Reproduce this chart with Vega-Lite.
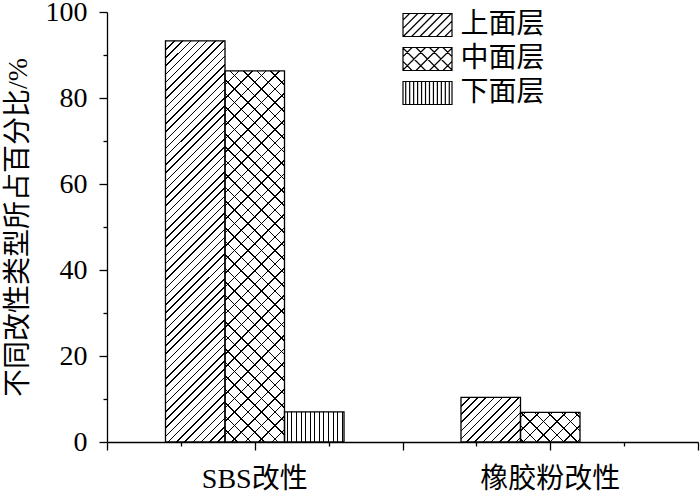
{
"$schema": "https://vega.github.io/schema/vega-lite/v6.json",
"width": 591, "height": 430,
"autosize": {"type": "none"},
"padding": {"left": 107, "top": 12, "right": 2, "bottom": 51},
"background": "white",
"config": {"view": {"stroke": null}},
"data": {"values": [
 {"type": "SBS改性", "layer": "上面层", "pct": 93.3},
 {"type": "SBS改性", "layer": "中面层", "pct": 86.3},
 {"type": "SBS改性", "layer": "下面层", "pct": 7.0},
 {"type": "橡胶粉改性", "layer": "上面层", "pct": 10.4},
 {"type": "橡胶粉改性", "layer": "中面层", "pct": 6.9},
 {"type": "橡胶粉改性", "layer": "下面层", "pct": 0}
]},
"layer": [
 {
  "encoding": {
   "x": {"field": "type", "type": "nominal", "scale": {"domain": ["SBS改性", "橡胶粉改性"], "paddingInner": 0, "paddingOuter": 0},
         "axis": {"orient": "bottom", "title": null, "ticks": false, "labelAngle": 0, "labelFont": "'Liberation Serif', 'Noto Sans CJK SC', serif", "labelFontSize": 28, "labelColor": "black", "labelPadding": 23, "labelBaseline": "top", "domainColor": "black", "domainWidth": 1.3}},
   "xOffset": {"field": "layer", "type": "nominal", "scale": {"domain": ["上面层", "中面层", "下面层"], "paddingInner": 0, "paddingOuter": 0.983}},
   "y": {"field": "pct", "type": "quantitative", "scale": {"domain": [0, 100], "nice": false, "zero": true},
         "axis": {"title": "不同改性类型所占百分比/%", "titleFont": "'Liberation Serif', 'Noto Sans CJK SC', serif", "titleFontSize": 28, "titleFontWeight": "normal", "titleColor": "black", "titlePadding": 13,
                  "values": [0, 10, 20, 30, 40, 50, 60, 70, 80, 90, 100], "labelExpr": "datum.value % 20 === 0 ? datum.label : ''",
                  "labelFont": "'Liberation Serif', serif", "labelFontSize": 28, "labelColor": "black", "labelPadding": 12,
                  "tickColor": "black", "tickWidth": 1.3, "tickSize": {"condition": {"test": "datum.value % 20 === 0", "value": 8}, "value": 4},
                  "domainColor": "black", "domainWidth": 1.3, "grid": false}}
  },
  "layer": [
   {"mark": {"type": "bar"},
    "encoding": {"fill": {"field": "layer", "type": "nominal", "scale": {"domain": ["上面层", "中面层", "下面层"], "range": ["white", "white", "white"]},
      "legend": {"title": null, "orient": "none", "legendX": 306.5, "legendY": -1, "padding": 0, "symbolSize": 576, "symbolStrokeWidth": 1.2, "symbolStrokeColor": "black",
        "labelFont": "'Noto Sans CJK SC', sans-serif", "labelFontSize": 28, "labelColor": "black", "labelOffset": 19, "rowPadding": 6,
        "encode": {"symbols": {"update": {
          "shape": [
           {"test": "datum.value === '上面层'", "value": "M-2.042,-0.958H2.042V0.958H-2.042ZM-2.042,-0.408L-1.492,-0.958M-2.042,0.286L-0.798,-0.958M-2.019,0.958L-0.104,-0.958M-1.325,0.958L0.59,-0.958M-0.631,0.958L1.284,-0.958M0.063,0.958L1.978,-0.958M0.757,0.958L2.042,-0.327M1.452,0.958L2.042,0.368"},
           {"test": "datum.value === '中面层'", "value": "M-2.042,-0.958H2.042V0.958H-2.042ZM-2.042,-0.204L-1.288,-0.958M-2.042,0.919L-0.165,-0.958M-0.958,0.958L0.958,-0.958M0.165,0.958L2.042,-0.919M1.288,0.958L2.042,0.204M-2.042,0.204L-1.288,0.958M-2.042,-0.919L-0.165,0.958M-0.958,-0.958L0.958,0.958M0.165,-0.958L2.042,0.919M1.288,-0.958L2.042,-0.204"},
           {"value": "M-2.042,-0.958H2.042V0.958H-2.042ZM-1.815,-0.958V0.958M-1.485,-0.958V0.958M-1.155,-0.958V0.958M-0.825,-0.958V0.958M-0.495,-0.958V0.958M-0.165,-0.958V0.958M0.165,-0.958V0.958M0.495,-0.958V0.958M0.825,-0.958V0.958M1.155,-0.958V0.958M1.485,-0.958V0.958M1.815,-0.958V0.958"}
          ],
          "fill": {"value": "white"}, "fillOpacity": {"value": 1}, "opacity": {"value": 1}, "stroke": {"value": "black"}, "strokeWidth": {"value": 1.2}
        }}}
      }}}
   },
   {"transform": [{"filter": "datum.type === 'SBS改性' && datum.layer === '上面层'"}],
    "mark": {"type": "bar", "strokeWidth": 0, "fill": {"gradient": "linear", "x1": 0, "y1": 0, "x2": 0.1666, "y2": 1.1236, "stops": [
{"offset":0,"color":"#000"},{"offset":0.0033,"color":"#000"},{"offset":0.0033,"color":"#fff"},
{"offset":0.0179,"color":"#fff"},{"offset":0.0179,"color":"#000"},{"offset":0.0212,"color":"#000"},{"offset":0.0212,"color":"#fff"},
{"offset":0.0357,"color":"#fff"},{"offset":0.0357,"color":"#000"},{"offset":0.039,"color":"#000"},{"offset":0.039,"color":"#fff"},
{"offset":0.0536,"color":"#fff"},{"offset":0.0536,"color":"#000"},{"offset":0.0569,"color":"#000"},{"offset":0.0569,"color":"#fff"},
{"offset":0.0714,"color":"#fff"},{"offset":0.0714,"color":"#000"},{"offset":0.0747,"color":"#000"},{"offset":0.0747,"color":"#fff"},
{"offset":0.0893,"color":"#fff"},{"offset":0.0893,"color":"#000"},{"offset":0.0926,"color":"#000"},{"offset":0.0926,"color":"#fff"},
{"offset":0.1071,"color":"#fff"},{"offset":0.1071,"color":"#000"},{"offset":0.1104,"color":"#000"},{"offset":0.1104,"color":"#fff"},
{"offset":0.125,"color":"#fff"},{"offset":0.125,"color":"#000"},{"offset":0.1283,"color":"#000"},{"offset":0.1283,"color":"#fff"},
{"offset":0.1429,"color":"#fff"},{"offset":0.1429,"color":"#000"},{"offset":0.1462,"color":"#000"},{"offset":0.1462,"color":"#fff"},
{"offset":0.1607,"color":"#fff"},{"offset":0.1607,"color":"#000"},{"offset":0.164,"color":"#000"},{"offset":0.164,"color":"#fff"},
{"offset":0.1786,"color":"#fff"},{"offset":0.1786,"color":"#000"},{"offset":0.1819,"color":"#000"},{"offset":0.1819,"color":"#fff"},
{"offset":0.1964,"color":"#fff"},{"offset":0.1964,"color":"#000"},{"offset":0.1997,"color":"#000"},{"offset":0.1997,"color":"#fff"},
{"offset":0.2143,"color":"#fff"},{"offset":0.2143,"color":"#000"},{"offset":0.2176,"color":"#000"},{"offset":0.2176,"color":"#fff"},
{"offset":0.2321,"color":"#fff"},{"offset":0.2321,"color":"#000"},{"offset":0.2354,"color":"#000"},{"offset":0.2354,"color":"#fff"},
{"offset":0.25,"color":"#fff"},{"offset":0.25,"color":"#000"},{"offset":0.2533,"color":"#000"},{"offset":0.2533,"color":"#fff"},
{"offset":0.2679,"color":"#fff"},{"offset":0.2679,"color":"#000"},{"offset":0.2712,"color":"#000"},{"offset":0.2712,"color":"#fff"},
{"offset":0.2857,"color":"#fff"},{"offset":0.2857,"color":"#000"},{"offset":0.289,"color":"#000"},{"offset":0.289,"color":"#fff"},
{"offset":0.3036,"color":"#fff"},{"offset":0.3036,"color":"#000"},{"offset":0.3069,"color":"#000"},{"offset":0.3069,"color":"#fff"},
{"offset":0.3214,"color":"#fff"},{"offset":0.3214,"color":"#000"},{"offset":0.3247,"color":"#000"},{"offset":0.3247,"color":"#fff"},
{"offset":0.3393,"color":"#fff"},{"offset":0.3393,"color":"#000"},{"offset":0.3426,"color":"#000"},{"offset":0.3426,"color":"#fff"},
{"offset":0.3571,"color":"#fff"},{"offset":0.3571,"color":"#000"},{"offset":0.3604,"color":"#000"},{"offset":0.3604,"color":"#fff"},
{"offset":0.375,"color":"#fff"},{"offset":0.375,"color":"#000"},{"offset":0.3783,"color":"#000"},{"offset":0.3783,"color":"#fff"},
{"offset":0.3929,"color":"#fff"},{"offset":0.3929,"color":"#000"},{"offset":0.3962,"color":"#000"},{"offset":0.3962,"color":"#fff"},
{"offset":0.4107,"color":"#fff"},{"offset":0.4107,"color":"#000"},{"offset":0.414,"color":"#000"},{"offset":0.414,"color":"#fff"},
{"offset":0.4286,"color":"#fff"},{"offset":0.4286,"color":"#000"},{"offset":0.4319,"color":"#000"},{"offset":0.4319,"color":"#fff"},
{"offset":0.4464,"color":"#fff"},{"offset":0.4464,"color":"#000"},{"offset":0.4497,"color":"#000"},{"offset":0.4497,"color":"#fff"},
{"offset":0.4643,"color":"#fff"},{"offset":0.4643,"color":"#000"},{"offset":0.4676,"color":"#000"},{"offset":0.4676,"color":"#fff"},
{"offset":0.4821,"color":"#fff"},{"offset":0.4821,"color":"#000"},{"offset":0.4854,"color":"#000"},{"offset":0.4854,"color":"#fff"},
{"offset":0.5,"color":"#fff"},{"offset":0.5,"color":"#000"},{"offset":0.5033,"color":"#000"},{"offset":0.5033,"color":"#fff"},
{"offset":0.5179,"color":"#fff"},{"offset":0.5179,"color":"#000"},{"offset":0.5212,"color":"#000"},{"offset":0.5212,"color":"#fff"},
{"offset":0.5357,"color":"#fff"},{"offset":0.5357,"color":"#000"},{"offset":0.539,"color":"#000"},{"offset":0.539,"color":"#fff"},
{"offset":0.5536,"color":"#fff"},{"offset":0.5536,"color":"#000"},{"offset":0.5569,"color":"#000"},{"offset":0.5569,"color":"#fff"},
{"offset":0.5714,"color":"#fff"},{"offset":0.5714,"color":"#000"},{"offset":0.5747,"color":"#000"},{"offset":0.5747,"color":"#fff"},
{"offset":0.5893,"color":"#fff"},{"offset":0.5893,"color":"#000"},{"offset":0.5926,"color":"#000"},{"offset":0.5926,"color":"#fff"},
{"offset":0.6071,"color":"#fff"},{"offset":0.6071,"color":"#000"},{"offset":0.6104,"color":"#000"},{"offset":0.6104,"color":"#fff"},
{"offset":0.625,"color":"#fff"},{"offset":0.625,"color":"#000"},{"offset":0.6283,"color":"#000"},{"offset":0.6283,"color":"#fff"},
{"offset":0.6429,"color":"#fff"},{"offset":0.6429,"color":"#000"},{"offset":0.6462,"color":"#000"},{"offset":0.6462,"color":"#fff"},
{"offset":0.6607,"color":"#fff"},{"offset":0.6607,"color":"#000"},{"offset":0.664,"color":"#000"},{"offset":0.664,"color":"#fff"},
{"offset":0.6786,"color":"#fff"},{"offset":0.6786,"color":"#000"},{"offset":0.6819,"color":"#000"},{"offset":0.6819,"color":"#fff"},
{"offset":0.6964,"color":"#fff"},{"offset":0.6964,"color":"#000"},{"offset":0.6997,"color":"#000"},{"offset":0.6997,"color":"#fff"},
{"offset":0.7143,"color":"#fff"},{"offset":0.7143,"color":"#000"},{"offset":0.7176,"color":"#000"},{"offset":0.7176,"color":"#fff"},
{"offset":0.7321,"color":"#fff"},{"offset":0.7321,"color":"#000"},{"offset":0.7354,"color":"#000"},{"offset":0.7354,"color":"#fff"},
{"offset":0.75,"color":"#fff"},{"offset":0.75,"color":"#000"},{"offset":0.7533,"color":"#000"},{"offset":0.7533,"color":"#fff"},
{"offset":0.7679,"color":"#fff"},{"offset":0.7679,"color":"#000"},{"offset":0.7712,"color":"#000"},{"offset":0.7712,"color":"#fff"},
{"offset":0.7857,"color":"#fff"},{"offset":0.7857,"color":"#000"},{"offset":0.789,"color":"#000"},{"offset":0.789,"color":"#fff"},
{"offset":0.8036,"color":"#fff"},{"offset":0.8036,"color":"#000"},{"offset":0.8069,"color":"#000"},{"offset":0.8069,"color":"#fff"},
{"offset":0.8214,"color":"#fff"},{"offset":0.8214,"color":"#000"},{"offset":0.8247,"color":"#000"},{"offset":0.8247,"color":"#fff"},
{"offset":0.8393,"color":"#fff"},{"offset":0.8393,"color":"#000"},{"offset":0.8426,"color":"#000"},{"offset":0.8426,"color":"#fff"},
{"offset":0.8571,"color":"#fff"},{"offset":0.8571,"color":"#000"},{"offset":0.8604,"color":"#000"},{"offset":0.8604,"color":"#fff"},
{"offset":0.875,"color":"#fff"},{"offset":0.875,"color":"#000"},{"offset":0.8783,"color":"#000"},{"offset":0.8783,"color":"#fff"},
{"offset":0.8929,"color":"#fff"},{"offset":0.8929,"color":"#000"},{"offset":0.8962,"color":"#000"},{"offset":0.8962,"color":"#fff"},
{"offset":0.9107,"color":"#fff"},{"offset":0.9107,"color":"#000"},{"offset":0.914,"color":"#000"},{"offset":0.914,"color":"#fff"},
{"offset":0.9286,"color":"#fff"},{"offset":0.9286,"color":"#000"},{"offset":0.9319,"color":"#000"},{"offset":0.9319,"color":"#fff"},
{"offset":0.9464,"color":"#fff"},{"offset":0.9464,"color":"#000"},{"offset":0.9497,"color":"#000"},{"offset":0.9497,"color":"#fff"},
{"offset":0.9643,"color":"#fff"},{"offset":0.9643,"color":"#000"},{"offset":0.9676,"color":"#000"},{"offset":0.9676,"color":"#fff"},
{"offset":0.9821,"color":"#fff"},{"offset":0.9821,"color":"#000"},{"offset":0.9854,"color":"#000"},{"offset":0.9854,"color":"#fff"}
    ]}}},
   {"transform": [{"filter": "datum.type === 'SBS改性' && datum.layer === '中面层'"}],
    "mark": {"type": "bar", "strokeWidth": 0, "fill": {"gradient": "linear", "x1": 0, "y1": 0, "x2": 0.1814, "y2": 1.1313, "stops": [
{"offset":0,"color":"#000"},{"offset":0.0035,"color":"#000"},{"offset":0.0035,"color":"#fff"},
{"offset":0.0313,"color":"#fff"},{"offset":0.0313,"color":"#000"},{"offset":0.0348,"color":"#000"},{"offset":0.0348,"color":"#fff"},
{"offset":0.0625,"color":"#fff"},{"offset":0.0625,"color":"#000"},{"offset":0.066,"color":"#000"},{"offset":0.066,"color":"#fff"},
{"offset":0.0938,"color":"#fff"},{"offset":0.0938,"color":"#000"},{"offset":0.0973,"color":"#000"},{"offset":0.0973,"color":"#fff"},
{"offset":0.125,"color":"#fff"},{"offset":0.125,"color":"#000"},{"offset":0.1285,"color":"#000"},{"offset":0.1285,"color":"#fff"},
{"offset":0.1563,"color":"#fff"},{"offset":0.1563,"color":"#000"},{"offset":0.1598,"color":"#000"},{"offset":0.1598,"color":"#fff"},
{"offset":0.1875,"color":"#fff"},{"offset":0.1875,"color":"#000"},{"offset":0.191,"color":"#000"},{"offset":0.191,"color":"#fff"},
{"offset":0.2188,"color":"#fff"},{"offset":0.2188,"color":"#000"},{"offset":0.2223,"color":"#000"},{"offset":0.2223,"color":"#fff"},
{"offset":0.25,"color":"#fff"},{"offset":0.25,"color":"#000"},{"offset":0.2535,"color":"#000"},{"offset":0.2535,"color":"#fff"},
{"offset":0.2813,"color":"#fff"},{"offset":0.2813,"color":"#000"},{"offset":0.2848,"color":"#000"},{"offset":0.2848,"color":"#fff"},
{"offset":0.3125,"color":"#fff"},{"offset":0.3125,"color":"#000"},{"offset":0.316,"color":"#000"},{"offset":0.316,"color":"#fff"},
{"offset":0.3438,"color":"#fff"},{"offset":0.3438,"color":"#000"},{"offset":0.3473,"color":"#000"},{"offset":0.3473,"color":"#fff"},
{"offset":0.375,"color":"#fff"},{"offset":0.375,"color":"#000"},{"offset":0.3785,"color":"#000"},{"offset":0.3785,"color":"#fff"},
{"offset":0.4063,"color":"#fff"},{"offset":0.4063,"color":"#000"},{"offset":0.4098,"color":"#000"},{"offset":0.4098,"color":"#fff"},
{"offset":0.4375,"color":"#fff"},{"offset":0.4375,"color":"#000"},{"offset":0.441,"color":"#000"},{"offset":0.441,"color":"#fff"},
{"offset":0.4688,"color":"#fff"},{"offset":0.4688,"color":"#000"},{"offset":0.4723,"color":"#000"},{"offset":0.4723,"color":"#fff"},
{"offset":0.5,"color":"#fff"},{"offset":0.5,"color":"#000"},{"offset":0.5035,"color":"#000"},{"offset":0.5035,"color":"#fff"},
{"offset":0.5313,"color":"#fff"},{"offset":0.5313,"color":"#000"},{"offset":0.5348,"color":"#000"},{"offset":0.5348,"color":"#fff"},
{"offset":0.5625,"color":"#fff"},{"offset":0.5625,"color":"#000"},{"offset":0.566,"color":"#000"},{"offset":0.566,"color":"#fff"},
{"offset":0.5938,"color":"#fff"},{"offset":0.5938,"color":"#000"},{"offset":0.5973,"color":"#000"},{"offset":0.5973,"color":"#fff"},
{"offset":0.625,"color":"#fff"},{"offset":0.625,"color":"#000"},{"offset":0.6285,"color":"#000"},{"offset":0.6285,"color":"#fff"},
{"offset":0.6563,"color":"#fff"},{"offset":0.6563,"color":"#000"},{"offset":0.6598,"color":"#000"},{"offset":0.6598,"color":"#fff"},
{"offset":0.6875,"color":"#fff"},{"offset":0.6875,"color":"#000"},{"offset":0.691,"color":"#000"},{"offset":0.691,"color":"#fff"},
{"offset":0.7188,"color":"#fff"},{"offset":0.7188,"color":"#000"},{"offset":0.7223,"color":"#000"},{"offset":0.7223,"color":"#fff"},
{"offset":0.75,"color":"#fff"},{"offset":0.75,"color":"#000"},{"offset":0.7535,"color":"#000"},{"offset":0.7535,"color":"#fff"},
{"offset":0.7813,"color":"#fff"},{"offset":0.7813,"color":"#000"},{"offset":0.7848,"color":"#000"},{"offset":0.7848,"color":"#fff"},
{"offset":0.8125,"color":"#fff"},{"offset":0.8125,"color":"#000"},{"offset":0.816,"color":"#000"},{"offset":0.816,"color":"#fff"},
{"offset":0.8438,"color":"#fff"},{"offset":0.8438,"color":"#000"},{"offset":0.8473,"color":"#000"},{"offset":0.8473,"color":"#fff"},
{"offset":0.875,"color":"#fff"},{"offset":0.875,"color":"#000"},{"offset":0.8785,"color":"#000"},{"offset":0.8785,"color":"#fff"},
{"offset":0.9063,"color":"#fff"},{"offset":0.9063,"color":"#000"},{"offset":0.9098,"color":"#000"},{"offset":0.9098,"color":"#fff"},
{"offset":0.9375,"color":"#fff"},{"offset":0.9375,"color":"#000"},{"offset":0.941,"color":"#000"},{"offset":0.941,"color":"#fff"},
{"offset":0.9688,"color":"#fff"},{"offset":0.9688,"color":"#000"},{"offset":0.9723,"color":"#000"},{"offset":0.9723,"color":"#fff"}
    ]}}},
   {"transform": [{"filter": "datum.type === 'SBS改性' && datum.layer === '中面层'"}],
    "mark": {"type": "bar", "strokeWidth": 0, "fill": {"gradient": "linear", "x1": 1, "y1": 0, "x2": 0.8186, "y2": 1.1313, "stops": [
{"offset":0,"color":"#000"},{"offset":0.0035,"color":"#000"},{"offset":0.0035,"color":"rgba(0,0,0,0)"},
{"offset":0.0313,"color":"rgba(0,0,0,0)"},{"offset":0.0313,"color":"#000"},{"offset":0.0348,"color":"#000"},{"offset":0.0348,"color":"rgba(0,0,0,0)"},
{"offset":0.0625,"color":"rgba(0,0,0,0)"},{"offset":0.0625,"color":"#000"},{"offset":0.066,"color":"#000"},{"offset":0.066,"color":"rgba(0,0,0,0)"},
{"offset":0.0938,"color":"rgba(0,0,0,0)"},{"offset":0.0938,"color":"#000"},{"offset":0.0973,"color":"#000"},{"offset":0.0973,"color":"rgba(0,0,0,0)"},
{"offset":0.125,"color":"rgba(0,0,0,0)"},{"offset":0.125,"color":"#000"},{"offset":0.1285,"color":"#000"},{"offset":0.1285,"color":"rgba(0,0,0,0)"},
{"offset":0.1563,"color":"rgba(0,0,0,0)"},{"offset":0.1563,"color":"#000"},{"offset":0.1598,"color":"#000"},{"offset":0.1598,"color":"rgba(0,0,0,0)"},
{"offset":0.1875,"color":"rgba(0,0,0,0)"},{"offset":0.1875,"color":"#000"},{"offset":0.191,"color":"#000"},{"offset":0.191,"color":"rgba(0,0,0,0)"},
{"offset":0.2188,"color":"rgba(0,0,0,0)"},{"offset":0.2188,"color":"#000"},{"offset":0.2223,"color":"#000"},{"offset":0.2223,"color":"rgba(0,0,0,0)"},
{"offset":0.25,"color":"rgba(0,0,0,0)"},{"offset":0.25,"color":"#000"},{"offset":0.2535,"color":"#000"},{"offset":0.2535,"color":"rgba(0,0,0,0)"},
{"offset":0.2813,"color":"rgba(0,0,0,0)"},{"offset":0.2813,"color":"#000"},{"offset":0.2848,"color":"#000"},{"offset":0.2848,"color":"rgba(0,0,0,0)"},
{"offset":0.3125,"color":"rgba(0,0,0,0)"},{"offset":0.3125,"color":"#000"},{"offset":0.316,"color":"#000"},{"offset":0.316,"color":"rgba(0,0,0,0)"},
{"offset":0.3438,"color":"rgba(0,0,0,0)"},{"offset":0.3438,"color":"#000"},{"offset":0.3473,"color":"#000"},{"offset":0.3473,"color":"rgba(0,0,0,0)"},
{"offset":0.375,"color":"rgba(0,0,0,0)"},{"offset":0.375,"color":"#000"},{"offset":0.3785,"color":"#000"},{"offset":0.3785,"color":"rgba(0,0,0,0)"},
{"offset":0.4063,"color":"rgba(0,0,0,0)"},{"offset":0.4063,"color":"#000"},{"offset":0.4098,"color":"#000"},{"offset":0.4098,"color":"rgba(0,0,0,0)"},
{"offset":0.4375,"color":"rgba(0,0,0,0)"},{"offset":0.4375,"color":"#000"},{"offset":0.441,"color":"#000"},{"offset":0.441,"color":"rgba(0,0,0,0)"},
{"offset":0.4688,"color":"rgba(0,0,0,0)"},{"offset":0.4688,"color":"#000"},{"offset":0.4723,"color":"#000"},{"offset":0.4723,"color":"rgba(0,0,0,0)"},
{"offset":0.5,"color":"rgba(0,0,0,0)"},{"offset":0.5,"color":"#000"},{"offset":0.5035,"color":"#000"},{"offset":0.5035,"color":"rgba(0,0,0,0)"},
{"offset":0.5313,"color":"rgba(0,0,0,0)"},{"offset":0.5313,"color":"#000"},{"offset":0.5348,"color":"#000"},{"offset":0.5348,"color":"rgba(0,0,0,0)"},
{"offset":0.5625,"color":"rgba(0,0,0,0)"},{"offset":0.5625,"color":"#000"},{"offset":0.566,"color":"#000"},{"offset":0.566,"color":"rgba(0,0,0,0)"},
{"offset":0.5938,"color":"rgba(0,0,0,0)"},{"offset":0.5938,"color":"#000"},{"offset":0.5973,"color":"#000"},{"offset":0.5973,"color":"rgba(0,0,0,0)"},
{"offset":0.625,"color":"rgba(0,0,0,0)"},{"offset":0.625,"color":"#000"},{"offset":0.6285,"color":"#000"},{"offset":0.6285,"color":"rgba(0,0,0,0)"},
{"offset":0.6563,"color":"rgba(0,0,0,0)"},{"offset":0.6563,"color":"#000"},{"offset":0.6598,"color":"#000"},{"offset":0.6598,"color":"rgba(0,0,0,0)"},
{"offset":0.6875,"color":"rgba(0,0,0,0)"},{"offset":0.6875,"color":"#000"},{"offset":0.691,"color":"#000"},{"offset":0.691,"color":"rgba(0,0,0,0)"},
{"offset":0.7188,"color":"rgba(0,0,0,0)"},{"offset":0.7188,"color":"#000"},{"offset":0.7223,"color":"#000"},{"offset":0.7223,"color":"rgba(0,0,0,0)"},
{"offset":0.75,"color":"rgba(0,0,0,0)"},{"offset":0.75,"color":"#000"},{"offset":0.7535,"color":"#000"},{"offset":0.7535,"color":"rgba(0,0,0,0)"},
{"offset":0.7813,"color":"rgba(0,0,0,0)"},{"offset":0.7813,"color":"#000"},{"offset":0.7848,"color":"#000"},{"offset":0.7848,"color":"rgba(0,0,0,0)"},
{"offset":0.8125,"color":"rgba(0,0,0,0)"},{"offset":0.8125,"color":"#000"},{"offset":0.816,"color":"#000"},{"offset":0.816,"color":"rgba(0,0,0,0)"},
{"offset":0.8438,"color":"rgba(0,0,0,0)"},{"offset":0.8438,"color":"#000"},{"offset":0.8473,"color":"#000"},{"offset":0.8473,"color":"rgba(0,0,0,0)"},
{"offset":0.875,"color":"rgba(0,0,0,0)"},{"offset":0.875,"color":"#000"},{"offset":0.8785,"color":"#000"},{"offset":0.8785,"color":"rgba(0,0,0,0)"},
{"offset":0.9063,"color":"rgba(0,0,0,0)"},{"offset":0.9063,"color":"#000"},{"offset":0.9098,"color":"#000"},{"offset":0.9098,"color":"rgba(0,0,0,0)"},
{"offset":0.9375,"color":"rgba(0,0,0,0)"},{"offset":0.9375,"color":"#000"},{"offset":0.941,"color":"#000"},{"offset":0.941,"color":"rgba(0,0,0,0)"},
{"offset":0.9688,"color":"rgba(0,0,0,0)"},{"offset":0.9688,"color":"#000"},{"offset":0.9723,"color":"#000"},{"offset":0.9723,"color":"rgba(0,0,0,0)"}
    ]}}},
   {"transform": [{"filter": "datum.type === 'SBS改性' && datum.layer === '下面层'"}],
    "mark": {"type": "bar", "strokeWidth": 0, "fill": {"gradient": "linear", "x1": 0, "y1": 0, "x2": 1, "y2": 0, "stops": [
{"offset":0.0385,"color":"#fff"},{"offset":0.0385,"color":"#000"},{"offset":0.0553,"color":"#000"},{"offset":0.0553,"color":"#fff"},
{"offset":0.1154,"color":"#fff"},{"offset":0.1154,"color":"#000"},{"offset":0.1322,"color":"#000"},{"offset":0.1322,"color":"#fff"},
{"offset":0.1923,"color":"#fff"},{"offset":0.1923,"color":"#000"},{"offset":0.2091,"color":"#000"},{"offset":0.2091,"color":"#fff"},
{"offset":0.2692,"color":"#fff"},{"offset":0.2692,"color":"#000"},{"offset":0.286,"color":"#000"},{"offset":0.286,"color":"#fff"},
{"offset":0.3461,"color":"#fff"},{"offset":0.3461,"color":"#000"},{"offset":0.3629,"color":"#000"},{"offset":0.3629,"color":"#fff"},
{"offset":0.423,"color":"#fff"},{"offset":0.423,"color":"#000"},{"offset":0.4398,"color":"#000"},{"offset":0.4398,"color":"#fff"},
{"offset":0.4999,"color":"#fff"},{"offset":0.4999,"color":"#000"},{"offset":0.5167,"color":"#000"},{"offset":0.5167,"color":"#fff"},
{"offset":0.5768,"color":"#fff"},{"offset":0.5768,"color":"#000"},{"offset":0.5936,"color":"#000"},{"offset":0.5936,"color":"#fff"},
{"offset":0.6537,"color":"#fff"},{"offset":0.6537,"color":"#000"},{"offset":0.6705,"color":"#000"},{"offset":0.6705,"color":"#fff"},
{"offset":0.7306,"color":"#fff"},{"offset":0.7306,"color":"#000"},{"offset":0.7474,"color":"#000"},{"offset":0.7474,"color":"#fff"},
{"offset":0.8075,"color":"#fff"},{"offset":0.8075,"color":"#000"},{"offset":0.8243,"color":"#000"},{"offset":0.8243,"color":"#fff"},
{"offset":0.8844,"color":"#fff"},{"offset":0.8844,"color":"#000"},{"offset":0.9012,"color":"#000"},{"offset":0.9012,"color":"#fff"},
{"offset":0.9613,"color":"#fff"},{"offset":0.9613,"color":"#000"},{"offset":0.9781,"color":"#000"},{"offset":0.9781,"color":"#fff"}
    ]}}},
   {"transform": [{"filter": "datum.type === '橡胶粉改性' && datum.layer === '上面层'"}],
    "mark": {"type": "bar", "strokeWidth": 0, "fill": {"gradient": "linear", "x1": 0, "y1": 0, "x2": 1.1195, "y2": 0.841, "stops": [
{"offset":0,"color":"#000"},{"offset":0.0144,"color":"#000"},{"offset":0.0144,"color":"#fff"},
{"offset":0.079,"color":"#fff"},{"offset":0.079,"color":"#000"},{"offset":0.0934,"color":"#000"},{"offset":0.0934,"color":"#fff"},
{"offset":0.158,"color":"#fff"},{"offset":0.158,"color":"#000"},{"offset":0.1724,"color":"#000"},{"offset":0.1724,"color":"#fff"},
{"offset":0.237,"color":"#fff"},{"offset":0.237,"color":"#000"},{"offset":0.2514,"color":"#000"},{"offset":0.2514,"color":"#fff"},
{"offset":0.316,"color":"#fff"},{"offset":0.316,"color":"#000"},{"offset":0.3304,"color":"#000"},{"offset":0.3304,"color":"#fff"},
{"offset":0.395,"color":"#fff"},{"offset":0.395,"color":"#000"},{"offset":0.4094,"color":"#000"},{"offset":0.4094,"color":"#fff"},
{"offset":0.474,"color":"#fff"},{"offset":0.474,"color":"#000"},{"offset":0.4884,"color":"#000"},{"offset":0.4884,"color":"#fff"},
{"offset":0.553,"color":"#fff"},{"offset":0.553,"color":"#000"},{"offset":0.5674,"color":"#000"},{"offset":0.5674,"color":"#fff"},
{"offset":0.632,"color":"#fff"},{"offset":0.632,"color":"#000"},{"offset":0.6464,"color":"#000"},{"offset":0.6464,"color":"#fff"},
{"offset":0.711,"color":"#fff"},{"offset":0.711,"color":"#000"},{"offset":0.7254,"color":"#000"},{"offset":0.7254,"color":"#fff"},
{"offset":0.79,"color":"#fff"},{"offset":0.79,"color":"#000"},{"offset":0.8044,"color":"#000"},{"offset":0.8044,"color":"#fff"},
{"offset":0.869,"color":"#fff"},{"offset":0.869,"color":"#000"},{"offset":0.8834,"color":"#000"},{"offset":0.8834,"color":"#fff"},
{"offset":0.948,"color":"#fff"},{"offset":0.948,"color":"#000"},{"offset":0.9624,"color":"#000"},{"offset":0.9624,"color":"#fff"}
    ]}}},
   {"transform": [{"filter": "datum.type === '橡胶粉改性' && datum.layer === '中面层'"}],
    "mark": {"type": "bar", "strokeWidth": 0, "fill": {"gradient": "linear", "x1": 0, "y1": 0, "x2": 1.2002, "y2": 0.5985, "stops": [
{"offset":0.05,"color":"#fff"},{"offset":0.05,"color":"#000"},{"offset":0.0668,"color":"#000"},{"offset":0.0668,"color":"#fff"},
{"offset":0.201,"color":"#fff"},{"offset":0.201,"color":"#000"},{"offset":0.2178,"color":"#000"},{"offset":0.2178,"color":"#fff"},
{"offset":0.352,"color":"#fff"},{"offset":0.352,"color":"#000"},{"offset":0.3688,"color":"#000"},{"offset":0.3688,"color":"#fff"},
{"offset":0.503,"color":"#fff"},{"offset":0.503,"color":"#000"},{"offset":0.5198,"color":"#000"},{"offset":0.5198,"color":"#fff"},
{"offset":0.654,"color":"#fff"},{"offset":0.654,"color":"#000"},{"offset":0.6708,"color":"#000"},{"offset":0.6708,"color":"#fff"},
{"offset":0.805,"color":"#fff"},{"offset":0.805,"color":"#000"},{"offset":0.8218,"color":"#000"},{"offset":0.8218,"color":"#fff"},
{"offset":0.956,"color":"#fff"},{"offset":0.956,"color":"#000"},{"offset":0.9728,"color":"#000"},{"offset":0.9728,"color":"#fff"}
    ]}}},
   {"transform": [{"filter": "datum.type === '橡胶粉改性' && datum.layer === '中面层'"}],
    "mark": {"type": "bar", "strokeWidth": 0, "fill": {"gradient": "linear", "x1": 1, "y1": 0, "x2": -0.2002, "y2": 0.5985, "stops": [
{"offset":0.05,"color":"rgba(0,0,0,0)"},{"offset":0.05,"color":"#000"},{"offset":0.0668,"color":"#000"},{"offset":0.0668,"color":"rgba(0,0,0,0)"},
{"offset":0.201,"color":"rgba(0,0,0,0)"},{"offset":0.201,"color":"#000"},{"offset":0.2178,"color":"#000"},{"offset":0.2178,"color":"rgba(0,0,0,0)"},
{"offset":0.352,"color":"rgba(0,0,0,0)"},{"offset":0.352,"color":"#000"},{"offset":0.3688,"color":"#000"},{"offset":0.3688,"color":"rgba(0,0,0,0)"},
{"offset":0.503,"color":"rgba(0,0,0,0)"},{"offset":0.503,"color":"#000"},{"offset":0.5198,"color":"#000"},{"offset":0.5198,"color":"rgba(0,0,0,0)"},
{"offset":0.654,"color":"rgba(0,0,0,0)"},{"offset":0.654,"color":"#000"},{"offset":0.6708,"color":"#000"},{"offset":0.6708,"color":"rgba(0,0,0,0)"},
{"offset":0.805,"color":"rgba(0,0,0,0)"},{"offset":0.805,"color":"#000"},{"offset":0.8218,"color":"#000"},{"offset":0.8218,"color":"rgba(0,0,0,0)"},
{"offset":0.956,"color":"rgba(0,0,0,0)"},{"offset":0.956,"color":"#000"},{"offset":0.9728,"color":"#000"},{"offset":0.9728,"color":"rgba(0,0,0,0)"}
    ]}}},
   {"transform": [{"filter": "datum.pct > 0"}],
    "mark": {"type": "bar", "filled": false, "stroke": "black", "strokeWidth": 1.3}}
  ]
 },
 {
  "mark": {"type": "point", "opacity": 0},
  "encoding": {
   "x": {"datum": 0, "type": "quantitative", "scale": {"domain": [0, 4], "nice": false, "zero": false},
         "axis": {"orient": "bottom", "title": null, "labels": false, "domain": false, "grid": false,
                  "values": [0, 0.5, 1, 1.5, 2, 2.5, 3, 3.5, 4], "tickColor": "black", "tickWidth": 1.3,
                  "tickSize": {"condition": {"test": "datum.value % 1 === 0", "value": 8}, "value": 4}}}
  }
 }
],
"resolve": {"scale": {"x": "independent"}, "axis": {"x": "independent"}}
}
